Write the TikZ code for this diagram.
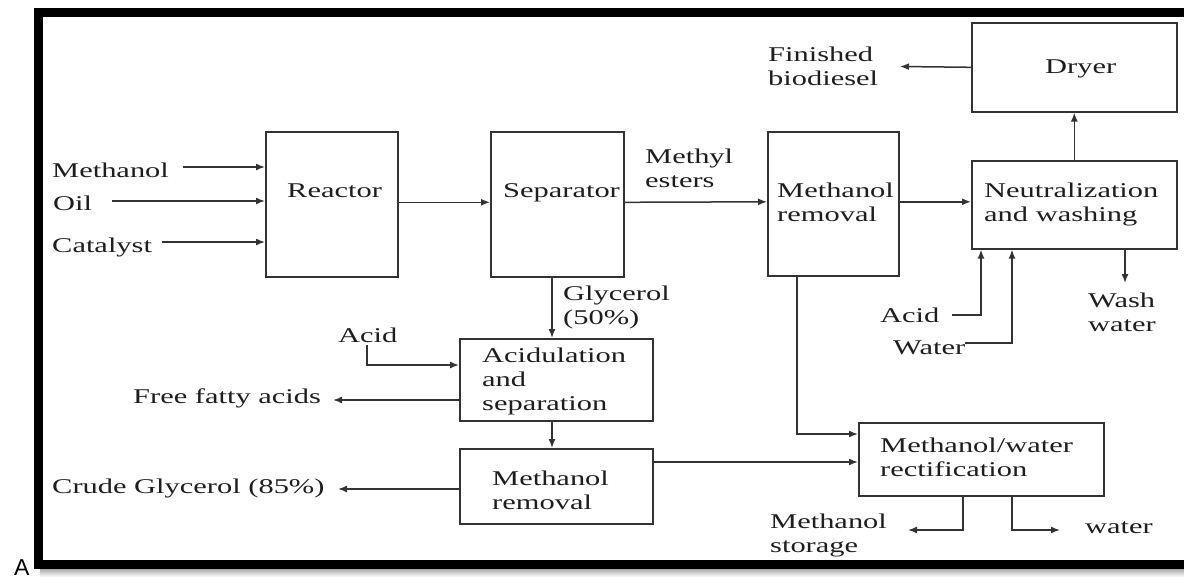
\documentclass[tikz,border=0pt]{standalone}
\usepackage{fontspec}
\setmainfont[FakeStretch=1.45]{Liberation Serif}
\newfontfamily\asans{Liberation Sans}
\usetikzlibrary{arrows.meta}
\definecolor{linec}{HTML}{333333}
\definecolor{txtc}{HTML}{1E1E1E}
\tikzset{
  box/.style={draw=linec, line width=1.6pt, fill=white, inner sep=0pt, anchor=north west},
  lbl/.style={text=txtc, inner sep=0pt, font=\fontsize{21}{24}\selectfont},
  lblb/.style={lbl, anchor=base west},
  lblm/.style={lbl, anchor=north west, align=left},
  arr/.style={draw=linec, line width=1.5pt, -{Latex[length=9pt,width=7pt]}},
}
\begin{document}
\begin{tikzpicture}[x=1pt,y=-1pt]
\useasboundingbox (0,0) rectangle (1184,579);
\clip (0,0) rectangle (1184,579);
\fill[white] (0,0) rectangle (1184,579);
% frame with shadow
\shade[top color=gray!75, bottom color=white] (40,568) rectangle (1184,577);
\draw[line width=8.5pt] (38.5,12.5) rectangle (1200,564.5);
\node[anchor=base west, inner sep=0pt, font=\asans\fontsize{23}{25}\selectfont] (tA) at (14,575) {A};

% boxes
\node[box, minimum width=132pt, minimum height=145pt] (reactor) at (265,131) {};
\node[box, minimum width=133pt, minimum height=145pt] (sep) at (490,131) {};
\node[box, minimum width=131pt, minimum height=144pt] (mr1) at (767,131) {};
\node[box, minimum width=205pt, minimum height=89pt] (dryer) at (971,22) {};
\node[box, minimum width=205pt, minimum height=88pt] (neut) at (971,160) {};
\node[box, minimum width=193pt, minimum height=82pt] (acid) at (459,338) {};
\node[box, minimum width=193pt, minimum height=75pt] (mr2) at (459,448) {};
\node[box, minimum width=245pt, minimum height=73pt] (rect) at (858,422) {};

% texts
\node[lblb] (tMeth) at (52,177) {Methanol};
\node[lblb] (tOil) at (53,210) {Oil};
\node[lblb] (tCat) at (52,252) {Catalyst};
\node[lblb] (tReactor) at (287,197) {Reactor};
\node[lblb] (tSep) at (503,197) {Separator};
\node[lblb] (tDryer) at (1045,73) {Dryer};
\node[lblb] (tAcidL) at (338,342) {Acid};
\node[lblb] (tFFA) at (133,403) {Free fatty acids};
\node[lblb] (tCrude) at (52,493) {Crude Glycerol (85\%)};
\node[lblb] (tWat) at (1085,533) {water};
\node[lblb] (tAcidR) at (880,322) {Acid};
\node[lblb] (tWaterR) at (893,354) {Water};

\node[lblm] (tMethyl) at (645,149) {Methyl\\esters};
\node[lblm] (tMR1) at (777,183) {Methanol\\removal};
\node[lblm] (tNeut) at (984,183) {Neutralization\\and washing};
\node[lblm] (tFin) at (768,47) {Finished\\biodiesel};
\node[lblm] (tGly) at (563,286) {Glycerol\\(50\%)};
\node[lblm] (tAcidu) at (482,348) {Acidulation\\and\\separation};
\node[lblm] (tMR2) at (492,471) {Methanol\\removal};
\node[lblm] (tRect) at (880,438) {Methanol/water\\rectification};
\node[lblm] (tStor) at (770,514) {Methanol\\storage};
\node[lblm] (tWash) at (1088,293) {Wash\\water};

% free ends
\coordinate (cMeth) at (183,167);
\coordinate (cOil) at (112,201);
\coordinate (cCat) at (162,242);
\coordinate (cFin) at (900,66.5);
\coordinate (cWash) at (1125,283);
\coordinate (cAcidR) at (952,315);
\coordinate (cWaterR) at (965,343);
\coordinate (cStor) at (908,530);
\coordinate (cWatOut) at (1060,530);
\coordinate (cAcidL) at (367,345);
\coordinate (cFFA) at (333,400);
\coordinate (cCrude) at (338,489);

% connectors
\draw[arr] (cMeth) -- (cMeth -| reactor.west);
\draw[arr] (cOil) -- (cOil -| reactor.west);
\draw[arr] (cCat) -- (cCat -| reactor.west);
\draw[arr] ([yshift=2pt]reactor.east) -- ([yshift=2pt]sep.west);
\draw[arr] ([yshift=2pt]sep.east) -- ([yshift=2pt]mr1.west);
\draw[arr] ([yshift=2pt]mr1.east) -- ([yshift=2pt]mr1.east -| neut.west);
\draw[arr] (neut.north) -- (dryer.south);
\draw[arr] (dryer.west) -- (cFin);
\draw[arr] (cWash |- neut.south) -- (cWash);
\draw[arr] (cAcidR) -| ([xshift=10pt]neut.south west);
\draw[arr] (cWaterR) -| ([xshift=41pt]neut.south west);
\draw[arr] ([xshift=30pt]mr1.south west) |- ([yshift=-12pt]rect.north west);
\draw[arr] ([yshift=-14pt]mr2.north east) -- ([yshift=-14pt]mr2.north east -| rect.west);
\draw[arr] ([xshift=105pt]rect.south west) |- (cStor);
\draw[arr] ([xshift=154pt]rect.south west) |- (cWatOut);
\draw[arr] ([xshift=62pt]sep.south west) -- ([xshift=93pt]acid.north west);
\draw[arr] (cAcidL) |- ([yshift=-27pt]acid.north west);
\draw[arr] ([yshift=-62pt]acid.north west) -- (cFFA);
\draw[arr] ([xshift=93pt]acid.south west) -- ([xshift=93pt]mr2.north west);
\draw[arr] ([yshift=-41pt]mr2.north west) -- (cCrude);
\end{tikzpicture}
\end{document}
